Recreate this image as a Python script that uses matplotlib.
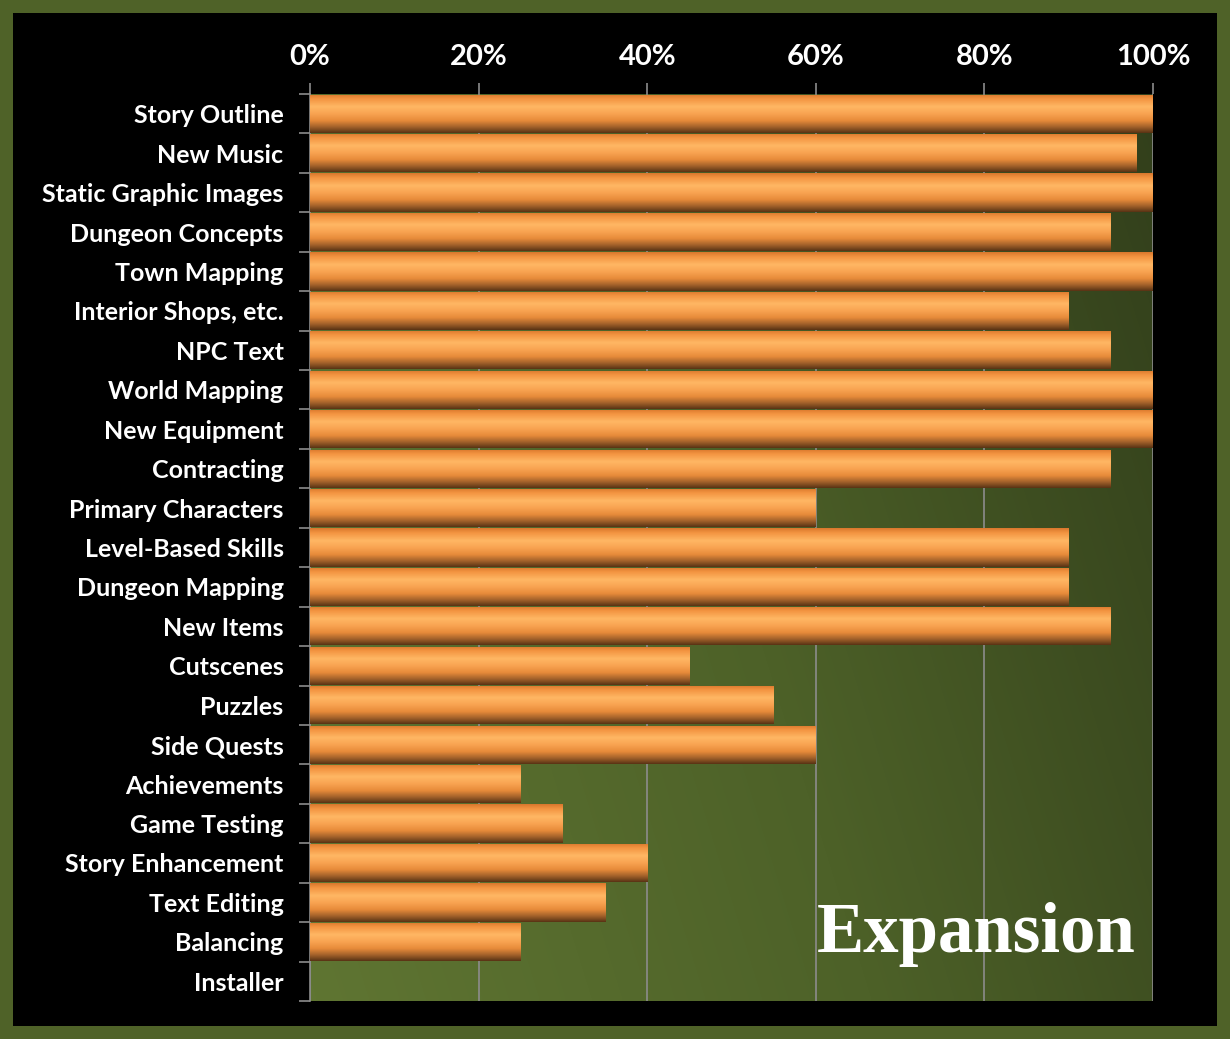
import numpy as np
import matplotlib
matplotlib.use("Agg")
import matplotlib.pyplot as plt
from matplotlib.colors import LinearSegmentedColormap
from matplotlib.patches import Rectangle

# ── Datos ────────────────────────────────────────────────────
tareas = [
    "Story Outline", "New Music", "Static Graphic Images", "Dungeon Concepts",
    "Town Mapping", "Interior Shops, etc.", "NPC Text", "World Mapping",
    "New Equipment", "Contracting", "Primary Characters", "Level-Based Skills",
    "Dungeon Mapping", "New Items", "Cutscenes", "Puzzles", "Side Quests",
    "Achievements", "Game Testing", "Story Enhancement", "Text Editing",
    "Balancing", "Installer",
]
avance = [100, 98, 100, 95, 100, 90, 95, 100, 100, 95, 60, 90, 90, 95,
          45, 55, 60, 25, 30, 40, 35, 25, 0]
marcas_x = [0, 20, 40, 60, 80, 100]
etiquetas_x = [f"{v}%" for v in marcas_x]

# ── Colores ──────────────────────────────────────────────────
BORDE = "#4f6228"
GRIS = "#8c8c8c"
cmap_barra = LinearSegmentedColormap.from_list("barra", [
    (0.00, "#d8772c"), (0.12, "#f39441"), (0.32, "#ffb764"),
    (0.50, "#f9a452"), (0.68, "#e78b3a"), (0.85, "#a0602a"),
    (1.00, "#583214")])
cmap_fondo = LinearSegmentedColormap.from_list("fondo", ["#5f7532", "#4d6128", "#323f1b"])

plt.rcParams["font.family"] = ["Lato", "DejaVu Sans"]

fig = plt.figure(figsize=(12.3, 10.39), dpi=100, facecolor="black")
# marco verde alrededor (13 px)
fig.patches.append(Rectangle((0, 0), 1, 1, transform=fig.transFigure,
                             fill=False, edgecolor=BORDE,
                             linewidth=26 * 0.72, zorder=10))

ax = fig.add_axes([310 / 1230, 1 - 1001 / 1039, 843 / 1230, 907 / 1039])
ax.set_facecolor("none")

n = len(tareas)
y = np.arange(n)
ax.set_xlim(0, 100)
ax.set_ylim(n - 0.5, -0.5)

# fondo con degradado diagonal
gx, gy = np.meshgrid(np.linspace(0, 1, 200), np.linspace(0, 1, 200))
ax.imshow(0.75 * gx + 0.25 * (1 - gy), cmap=cmap_fondo, aspect="auto",
          extent=(0, 100, n - 0.5, -0.5), zorder=0, interpolation="bilinear")

ax.grid(axis="x", color=GRIS, linewidth=1.2, zorder=1)
ax.set_axisbelow(True)

barras = ax.barh(y, avance, height=0.97, color="#f09040", edgecolor="none", zorder=2)
grad = np.linspace(0, 1, 256).reshape(-1, 1)
for b in barras:
    if b.get_width() <= 0:
        continue
    x0, y0 = b.get_x(), b.get_y()
    w, h = b.get_width(), b.get_height()
    im = ax.imshow(grad, cmap=cmap_barra, aspect="auto",
                   extent=(x0, x0 + w, y0 + h, y0), zorder=3,
                   interpolation="bilinear")
    im.set_clip_path(b)

ax.set_xlim(0, 100)
ax.set_ylim(n - 0.5, -0.5)

# ejes
ax.xaxis.tick_top()
ax.set_xticks(marcas_x, labels=etiquetas_x, fontsize=21, fontweight="bold",
              color="white")
ax.tick_params(axis="x", colors=GRIS, length=8, width=1.2, pad=9,
               labelcolor="white")

ax.set_yticks(y)
ax.set_yticklabels(tareas, fontsize=18, fontweight="bold", color="white")
ax.set_yticks(np.arange(n + 1) - 0.5, minor=True)
ax.tick_params(axis="y", which="major", length=0, pad=19)
ax.tick_params(axis="y", which="minor", length=8, width=1.2, color=GRIS)

for lado in ["right", "bottom", "top"]:
    ax.spines[lado].set_visible(False)
ax.spines["left"].set_color(GRIS)
ax.spines["left"].set_linewidth(1.2)

ax.text(0.979, 0.073, "Expansion", transform=ax.transAxes, ha="right",
        va="center", fontsize=51, fontweight="bold", color="white",
        family=["Liberation Serif", "DejaVu Serif"], zorder=5)

fig.savefig("out.png", dpi=100, facecolor="black")
